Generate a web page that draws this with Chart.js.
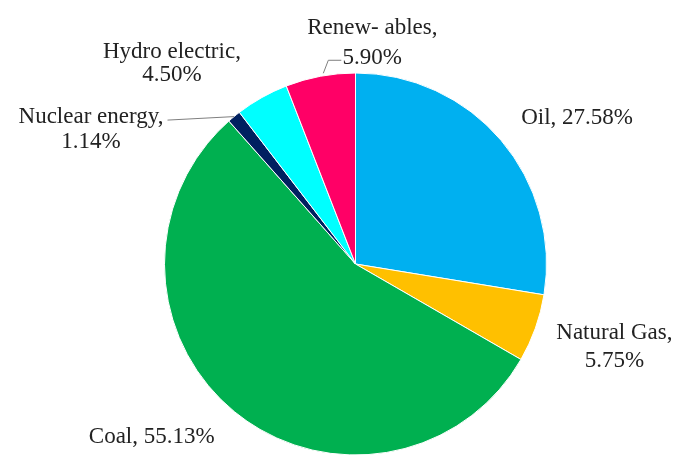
<!DOCTYPE html>
<html>
<head>
<meta charset="utf-8">
<script src="https://cdn.jsdelivr.net/npm/chart.js@4.4.0/dist/chart.umd.min.js"></script>
<style>
  body { margin: 0; background: #fff; }
  canvas { display: block; }
</style>
</head>
<body>
<canvas id="myChart" width="675" height="457"></canvas>
<script>
// dati del grafico
var categorie = ['Oil', 'Natural Gas', 'Coal', 'Nuclear energy', 'Hydro electric', 'Renewables'];
var valori = [27.58, 5.75, 55.13, 1.14, 4.50, 5.90];
// testo delle etichette, una riga per elemento
var etichette = [
  ['Oil, 27.58%'],
  ['Natural Gas,', '5.75%'],
  ['Coal, 55.13%'],
  ['Nuclear energy,', '1.14%'],
  ['Hydro electric,', '4.50%'],
  ['Renew- ables,', '5.90%']
];
var colori = ['#00B0F0', '#FFC000', '#00B050', '#002060', '#00FFFF', '#FF0066'];

// spostamento dell'etichetta rispetto al bordo della fetta (dx, dy del centro testo)
var spostamenti = [[76, -22], [79, 19], [-83, 25], [-143, 13], [-90, -34], [52, -33]];
var interlinea = [0, 28, 0, 25, 23, 30];
// quali etichette hanno la linea guida
var conLinea = [false, false, false, true, false, true];

var pluginEtichette = {
  id: 'etichette',
  afterDraw: function(chart) {
    var ctx = chart.ctx;
    var arcs = chart.getDatasetMeta(0).data;
    ctx.save();
    ctx.font = '23px "Liberation Serif", "Times New Roman", serif';
    ctx.fillStyle = '#222';
    ctx.textAlign = 'center';
    ctx.textBaseline = 'middle';
    for (var i = 0; i < arcs.length; i++) {
      var a = arcs[i];
      var mid = (a.startAngle + a.endAngle) / 2;
      var ax = a.x + Math.cos(mid) * a.outerRadius;
      var ay = a.y + Math.sin(mid) * a.outerRadius;
      var cx = ax + spostamenti[i][0];
      var cy = ay + spostamenti[i][1];
      var righe = etichette[i];
      var h = interlinea[i] * (righe.length - 1);
      for (var j = 0; j < righe.length; j++) {
        ctx.fillText(righe[j], cx, cy - h / 2 + j * interlinea[i]);
      }
      if (conLinea[i]) {
        ctx.strokeStyle = '#7f7f7f';
        ctx.lineWidth = 1;
        ctx.beginPath();
        if (i == 3) {
          // nucleare: linea quasi orizzontale verso il testo
          var w = ctx.measureText(righe[0]).width;
          ctx.moveTo(ax, ay);
          ctx.lineTo(cx + w / 2 + 4, cy - h / 2 + 3);
        } else {
          // rinnovabili: linea a gomito sotto la prima riga
          ctx.moveTo(ax + 3, ay - 3);
          ctx.lineTo(ax + 8, ay - 16);
          ctx.lineTo(ax + 21, ay - 16);
        }
        ctx.stroke();
      }
    }
    ctx.restore();
  }
};

var ctx = document.getElementById('myChart').getContext('2d');
var chart = new Chart(ctx, {
  type: 'pie',
  data: {
    labels: categorie,
    datasets: [{
      data: valori,
      backgroundColor: colori,
      borderColor: '#ffffff',
      borderWidth: 1
    }]
  },
  options: {
    responsive: false,
    animation: false,
    layout: {
      padding: { left: 164, right: 128, top: 72, bottom: 1 }
    },
    plugins: {
      legend: { display: false },
      tooltip: { enabled: false }
    }
  },
  plugins: [pluginEtichette]
});
</script>
</body>
</html>
